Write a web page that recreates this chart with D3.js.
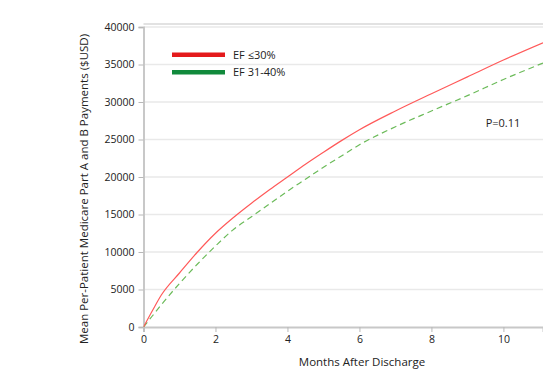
<!DOCTYPE html>
<html>
<head>
<meta charset="utf-8">
<script src="https://cdn.jsdelivr.net/npm/d3@7"></script>
<style>
  body { margin: 0; background: #fff; }
  text { font-family: "Open Sans", sans-serif; fill: #222; }
</style>
</head>
<body>
<svg id="chart" width="543" height="375"></svg>
<script>
// months after discharge, with mean cumulative payments per group
const monthsEF30 = [0, 0.25, 0.5, 1, 1.5, 2, 2.5, 3, 3.5, 4, 4.5, 5, 5.5, 6, 7, 8, 9, 10, 11.1];
const paymentsEF30 = [0, 2200, 4300, 7200, 10000, 12500, 14600, 16500, 18300, 20000, 21700, 23300, 24850, 26300, 28800, 31100, 33350, 35600, 37900];

const monthsEF3140 = [0, 0.25, 0.5, 1, 1.5, 2, 2.5, 3, 3.5, 4, 4.5, 5, 5.5, 6, 7, 8, 9, 10, 11.1];
const paymentsEF3140 = [0, 1500, 3000, 5800, 8400, 10800, 13000, 14700, 16400, 18100, 19700, 21300, 22800, 24300, 26700, 28800, 30850, 33000, 35200];

const seriesNames = ['EF \u226430%', 'EF 31-40%'];
const lineColors = ['#ff5a5a', '#6cbb5a'];
const legendColors = ['#e41a1c', '#118a3c'];

const xTicks = [0, 2, 4, 6, 8, 10];
const yTicks = [0, 5000, 10000, 15000, 20000, 25000, 30000, 35000, 40000];
const pValue = 'P=0.11';

const svg = d3.select('#chart');

const plotLeft = 143.5, plotRight = 543, plotTop = 27, plotBottom = 327;

const x = d3.scaleLinear().domain([0, 11.1]).range([plotLeft, plotRight]);
const y = d3.scaleLinear().domain([0, 40000]).range([plotBottom, plotTop]);

// grid
svg.append('g')
   .selectAll('line')
   .data(yTicks.filter(d => d > 0))
   .enter()
   .append('line')
   .attr('x1', plotLeft)
   .attr('x2', plotRight)
   .attr('y1', d => y(d))
   .attr('y2', d => y(d))
   .attr('stroke', '#e9e9e9')
   .attr('stroke-width', 1.5);

// top frame line
svg.append('line')
   .attr('x1', plotLeft).attr('x2', plotRight)
   .attr('y1', plotTop - 3).attr('y2', plotTop - 3)
   .attr('stroke', '#d8d8d8')
   .attr('stroke-width', 1.5);

const yAxis = d3.axisLeft(y).tickValues(yTicks).tickSize(5).tickPadding(4).tickFormat(d3.format('d'));
const xAxis = d3.axisBottom(x).tickValues(xTicks).tickSize(5).tickPadding(4);

const gy = svg.append('g')
   .attr('transform', 'translate(' + plotLeft + ',0)')
   .call(yAxis);

const gx = svg.append('g')
   .attr('transform', 'translate(0,' + plotBottom + ')')
   .call(xAxis);

[gx, gy].forEach(g => {
  g.select('.domain').attr('stroke', '#c8c8c8').attr('stroke-width', 2);
  g.selectAll('.tick line').attr('stroke', '#b8b8b8');
  g.selectAll('.tick text').style('font-size', '10.5px').attr('fill', '#333');
});

// lines
svg.append('clipPath').attr('id', 'plot')
   .append('rect')
   .attr('x', plotLeft).attr('y', plotTop - 5)
   .attr('width', plotRight - plotLeft).attr('height', plotBottom - plotTop + 5);

const line = d3.line()
   .x(d => x(d[0]))
   .y(d => y(d[1]))
   .curve(d3.curveMonotoneX);

svg.append('path')
   .datum(d3.zip(monthsEF3140, paymentsEF3140))
   .attr('d', line)
   .attr('fill', 'none')
   .attr('stroke', lineColors[1])
   .attr('stroke-width', 1.2)
   .attr('stroke-dasharray', '6,4')
   .attr('clip-path', 'url(#plot)');

svg.append('path')
   .datum(d3.zip(monthsEF30, paymentsEF30))
   .attr('d', line)
   .attr('fill', 'none')
   .attr('stroke', lineColors[0])
   .attr('stroke-width', 1.2)
   .attr('clip-path', 'url(#plot)');

// legend
const legend = svg.append('g')
   .selectAll('g')
   .data(seriesNames)
   .enter()
   .append('g')
   .attr('transform', (d, i) => 'translate(172,' + (54.7 + i * 17.5) + ')');

legend.append('line')
   .attr('x1', 0).attr('x2', 53)
   .attr('stroke', (d, i) => legendColors[i])
   .attr('stroke-width', 4.5);

legend.append('text')
   .attr('x', 61)
   .attr('dy', '0.35em')
   .style('font-size', '11px')
   .text(d => d);

svg.append('text')
   .attr('x', 503)
   .attr('y', 127)
   .attr('text-anchor', 'middle')
   .style('font-size', '11px')
   .text(pValue);

// axis titles
svg.append('text')
   .attr('x', 362)
   .attr('y', 366)
   .attr('text-anchor', 'middle')
   .style('font-size', '11.5px')
   .text('Months After Discharge');

svg.append('text')
   .attr('transform', 'translate(88,189) rotate(-90)')
   .attr('text-anchor', 'middle')
   .style('font-size', '11.5px')
   .text('Mean Per-Patient Medicare Part A and B Payments ($USD)');
</script>
</body>
</html>
